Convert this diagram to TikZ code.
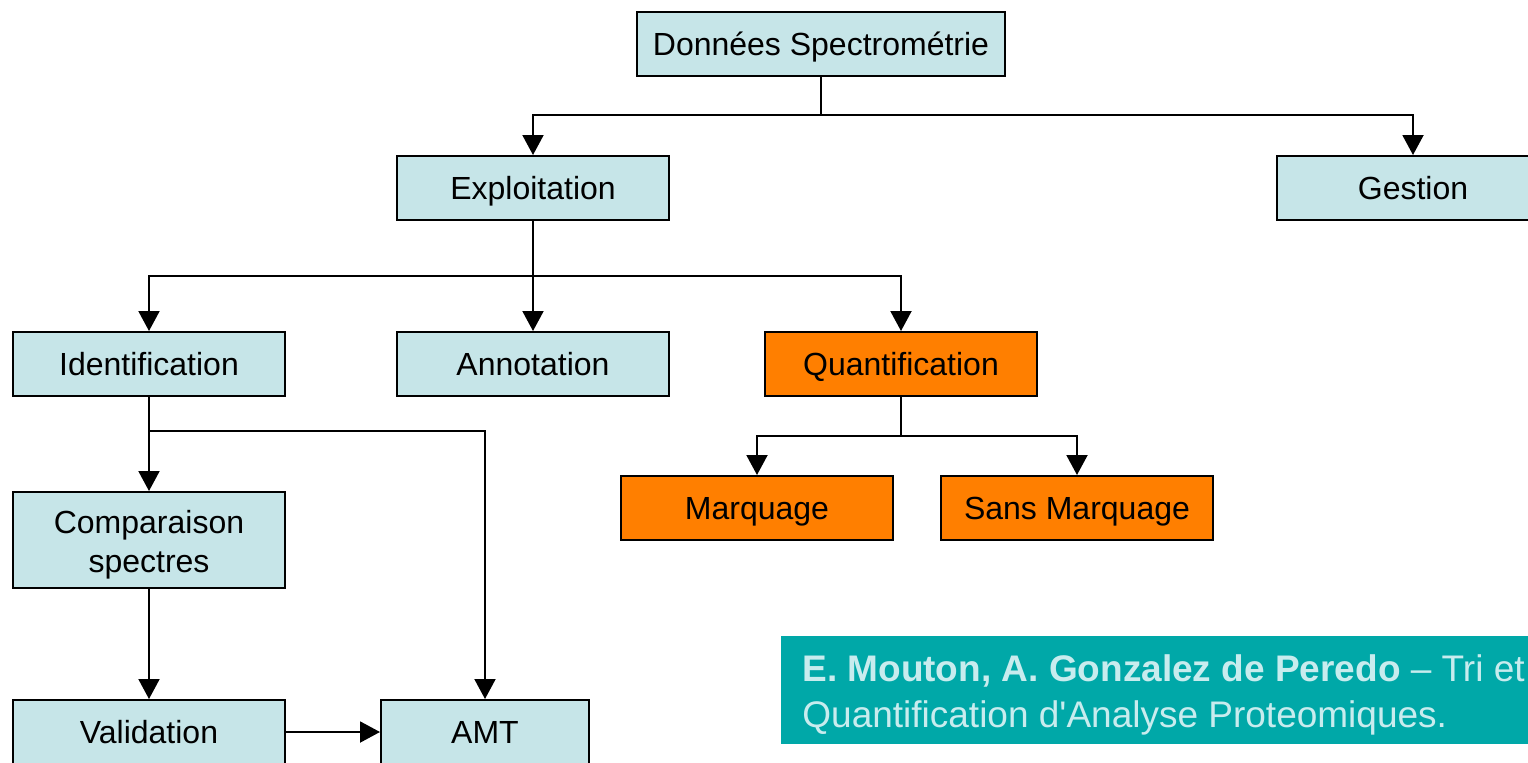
\documentclass[tikz,border=0pt]{standalone}
\usepackage{fontspec}
\setmainfont{Liberation Sans}[Ligatures=TeXOff]
\usetikzlibrary{arrows.meta}
\definecolor{boxblue}{RGB}{198,229,232}
\definecolor{boxorange}{RGB}{255,127,0}
\definecolor{bannerteal}{RGB}{0,168,168}
\definecolor{bannertext}{RGB}{200,236,238}
\tikzset{
  box/.style={draw=black, line width=1pt, fill=boxblue, minimum width=136pt,
    minimum height=32pt, inner sep=0pt, align=center,
    text height=11.5pt, text depth=0pt,
    font=\fontsize{16}{19.5}\selectfont},
  hotbox/.style={box, fill=boxorange},
  link/.style={line width=1pt},
  arr/.style={link, -{Triangle[length=10pt,width=10.5pt]}}
}
\begin{document}
\begin{tikzpicture}[x=0.5pt,y=-0.5pt]
\useasboundingbox (0,0) rectangle (1528,762);
\clip (0,0) rectangle (1528,762);
\fill[white] (0,0) rectangle (1528,762);

% boxes
\node[box, minimum width=184pt] (don) at (821,44) {Données Spectrométrie};
\node[box] (expl) at (533,188) {Exploitation};
\node[box] (gest) at (1413,188) {Gestion};
\node[box] (ident) at (149,364) {Identification};
\node[box] (annot) at (533,364) {Annotation};
\node[hotbox] (quant) at (901,364) {Quantification};
\node[hotbox] (marq) at (757,508) {Marquage};
\node[hotbox] (sans) at (1077,508) {Sans Marquage};
\node[box, minimum height=48pt, text height=32.5pt] (comp) at (149,540) {Comparaison\\spectres};
\node[box] (valid) at (149,732) {Validation};
\node[box, minimum width=104pt] (amt) at (485,732) {AMT};

% branch points
\coordinate (b1) at (821,115);
\coordinate (b2) at (533,276);
\coordinate (b3) at (901,436);
\coordinate (b4) at (149,431);

% connectors
\draw[link] (don.south) -- (b1);
\draw[arr] (b1) -| (expl.north);
\draw[arr] (b1) -| (gest.north);
\draw[link] (expl.south) -- (b2);
\draw[arr] (b2) -| (ident.north);
\draw[arr] (b2) -- (annot.north);
\draw[arr] (b2) -| (quant.north);
\draw[link] (quant.south) -- (b3);
\draw[arr] (b3) -| (marq.north);
\draw[arr] (b3) -| (sans.north);
\draw[arr] (ident.south) -- (comp.north);
\draw[arr] (b4) -| (amt.north);
\draw[arr] (comp.south) -- (valid.north);
\draw[arr] (valid.east) -- (amt.west);

% credit banner
\fill[bannerteal] (781,636) rectangle (1560,744);
\node[anchor=base west, inner sep=0pt, text=bannertext,
  font=\fontsize{18.5}{23}\selectfont] (credit1) at (802,681)
  {\textbf{E. Mouton, A. Gonzalez de Peredo} – Tri et};
\node[anchor=base west, inner sep=0pt, text=bannertext,
  font=\fontsize{18.5}{23}\selectfont] (credit2) at (802,727)
  {Quantification d'Analyse Proteomiques.};
\end{tikzpicture}
\end{document}
